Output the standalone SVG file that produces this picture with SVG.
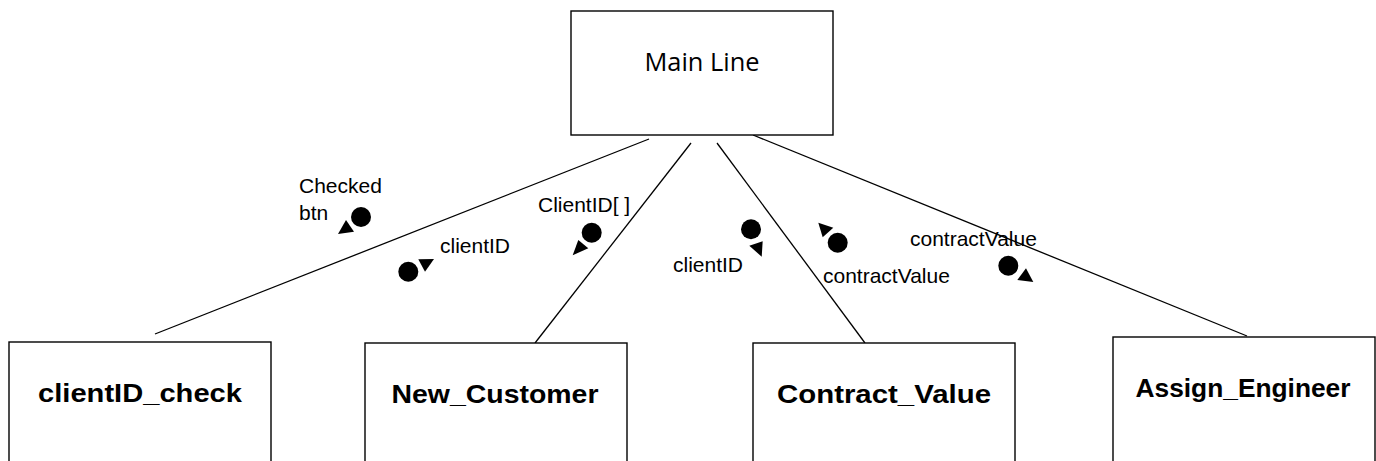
<svg xmlns="http://www.w3.org/2000/svg" width="1376" height="461" viewBox="0 0 1376 461">
<style>
.box{fill:#fff;stroke:#000;stroke-width:1.4}
.conn{stroke:#000;stroke-width:1.3;fill:none}
.node{font-family:"Liberation Sans",Arial,sans-serif;font-weight:bold;font-size:26px;fill:#000;text-anchor:middle}
.main{font-family:"Open Sans","Liberation Sans",sans-serif;font-size:25px;fill:#000;text-anchor:middle}
.lbl{font-family:"Liberation Sans",Arial,sans-serif;font-size:21px;fill:#000}
.dot{fill:#000}
</style>
<rect width="1376" height="461" fill="#fff"/>
<g id="connectors">
<line class="conn" x1="649" y1="139" x2="155" y2="334"/>
<line class="conn" x1="691" y1="143" x2="535" y2="343"/>
<line class="conn" x1="717" y1="143" x2="865" y2="343"/>
<line class="conn" x1="753" y1="135" x2="1247" y2="336"/>
</g>
<g id="messages">
<g id="msg-checked">
<text class="lbl" x="299" y="193">Checked</text>
<text class="lbl" x="299" y="220">btn</text>
<circle class="dot" cx="361" cy="217" r="10"/>
<polygon class="dot" points="338,234 354,231.7 346,220"/>
</g>
<g id="msg-clientid1">
<text class="lbl" x="440" y="253">clientID</text>
<circle class="dot" cx="408.3" cy="271.7" r="10"/>
<polygon class="dot" points="418.3,259.3 434,259 425,271.7"/>
</g>
<g id="msg-clientidarr">
<text class="lbl" x="538" y="212">ClientID[ ]</text>
<circle class="dot" cx="591.7" cy="232.7" r="10"/>
<polygon class="dot" points="572.7,255.3 588.3,248.3 578.3,240"/>
</g>
<g id="msg-clientid2">
<text class="lbl" x="673" y="272">clientID</text>
<circle class="dot" cx="751" cy="229.3" r="10"/>
<polygon class="dot" points="749.3,245.7 762.7,241.3 761.7,256.7"/>
</g>
<g id="msg-contract1">
<text class="lbl" x="823" y="283">contractValue</text>
<circle class="dot" cx="837.7" cy="242.7" r="10"/>
<polygon class="dot" points="818.3,222.7 833.3,227.7 822.7,237.3"/>
</g>
<g id="msg-contract2">
<text class="lbl" x="910" y="246">contractValue</text>
<circle class="dot" cx="1008.3" cy="265.7" r="10"/>
<polygon class="dot" points="1017.3,280 1033.3,282 1026,268.3"/>
</g>
</g>
<g id="node-main">
<rect class="box" x="571" y="11" width="262" height="124"/>
<text class="main" x="702" y="71" textLength="115" lengthAdjust="spacingAndGlyphs">Main Line</text>
</g>
<g id="node-clientid-check">
<rect class="box" x="9" y="342" width="262" height="140"/>
<text class="node" x="140" y="402" textLength="204" lengthAdjust="spacingAndGlyphs">clientID_check</text>
</g>
<g id="node-new-customer">
<rect class="box" x="365" y="343" width="262" height="140"/>
<text class="node" x="495" y="403" textLength="207" lengthAdjust="spacingAndGlyphs">New_Customer</text>
</g>
<g id="node-contract-value">
<rect class="box" x="753" y="343" width="262" height="140"/>
<text class="node" x="884" y="403" textLength="214" lengthAdjust="spacingAndGlyphs">Contract_Value</text>
</g>
<g id="node-assign-engineer">
<rect class="box" x="1113" y="337" width="262" height="140"/>
<text class="node" x="1243" y="397" font-size="24" textLength="215" lengthAdjust="spacingAndGlyphs">Assign_Engineer</text>
</g>
</svg>
